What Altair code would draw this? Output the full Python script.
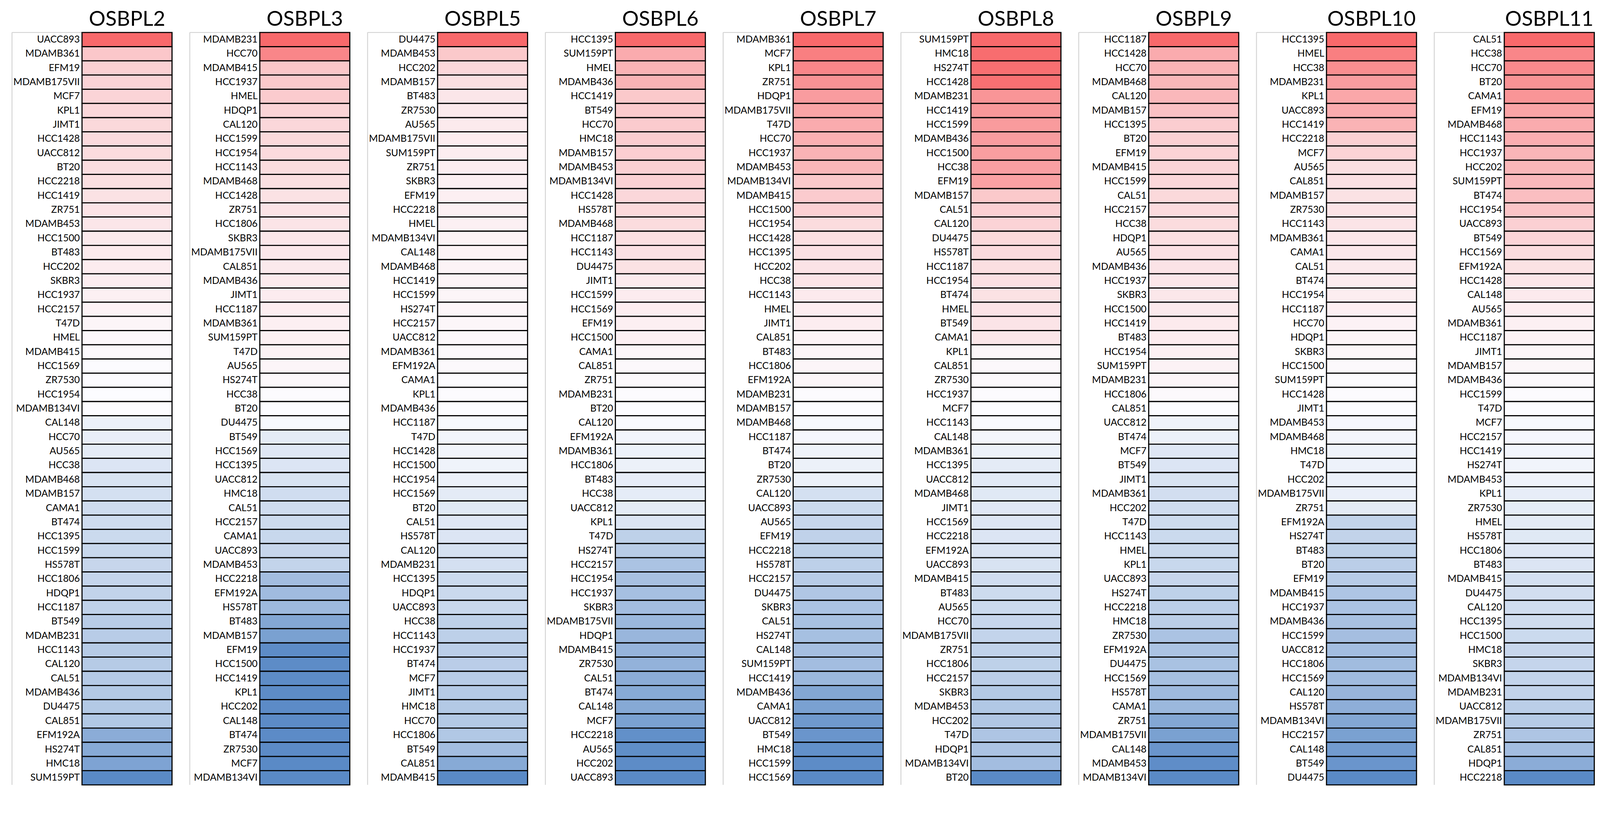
import altair as alt
import pandas as pd

genes = ["OSBPL2", "OSBPL3", "OSBPL5", "OSBPL6", "OSBPL7", "OSBPL8", "OSBPL9", "OSBPL10", "OSBPL11"]

OSBPL2_lines = ["UACC893", "MDAMB361", "EFM19", "MDAMB175VII", "MCF7", "KPL1", "JIMT1", "HCC1428", "UACC812", "BT20",
                "HCC2218", "HCC1419", "ZR751", "MDAMB453", "HCC1500", "BT483", "HCC202", "SKBR3", "HCC1937", "HCC2157",
                "T47D", "HMEL", "MDAMB415", "HCC1569", "ZR7530", "HCC1954", "MDAMB134VI", "CAL148", "HCC70", "AU565",
                "HCC38", "MDAMB468", "MDAMB157", "CAMA1", "BT474", "HCC1395", "HCC1599", "HS578T", "HCC1806", "HDQP1",
                "HCC1187", "BT549", "MDAMB231", "HCC1143", "CAL120", "CAL51", "MDAMB436", "DU4475", "CAL851", "EFM192A",
                "HS274T", "HMC18", "SUM159PT"]
OSBPL2_vals = [1.0, 0.36, 0.3, 0.28, 0.27, 0.25, 0.24, 0.23, 0.22, 0.21,
               0.2, 0.18, 0.17, 0.15, 0.13, 0.12, 0.11, 0.1, 0.08, 0.07,
               0.05, 0.03, 0.02, 0.01, 0.005, 0.002, 0.0, -0.1, -0.12, -0.15,
               -0.2, -0.22, -0.25, -0.28, -0.28, -0.3, -0.32, -0.33, -0.34, -0.36,
               -0.37, -0.42, -0.42, -0.43, -0.43, -0.44, -0.45, -0.45, -0.46, -0.7,
               -0.72, -0.78, -1.0]

OSBPL3_lines = ["MDAMB231", "HCC70", "MDAMB415", "HCC1937", "HMEL", "HDQP1", "CAL120", "HCC1599", "HCC1954", "HCC1143",
                "MDAMB468", "HCC1428", "ZR751", "HCC1806", "SKBR3", "MDAMB175VII", "CAL851", "MDAMB436", "JIMT1", "HCC1187",
                "MDAMB361", "SUM159PT", "T47D", "AU565", "HS274T", "HCC38", "BT20", "DU4475", "BT549", "HCC1569",
                "HCC1395", "UACC812", "HMC18", "CAL51", "HCC2157", "CAMA1", "UACC893", "MDAMB453", "HCC2218", "EFM192A",
                "HS578T", "BT483", "MDAMB157", "EFM19", "HCC1500", "HCC1419", "KPL1", "HCC202", "CAL148", "BT474",
                "ZR7530", "MCF7", "MDAMB134VI"]
OSBPL3_vals = [1.0, 0.8, 0.37, 0.35, 0.33, 0.27, 0.25, 0.24, 0.23, 0.22,
               0.2, 0.18, 0.17, 0.16, 0.15, 0.14, 0.13, 0.12, 0.11, 0.1,
               0.09, 0.08, 0.07, 0.05, 0.03, 0.01, 0.0, -0.03, -0.15, -0.18,
               -0.2, -0.22, -0.27, -0.28, -0.29, -0.32, -0.33, -0.35, -0.55, -0.57,
               -0.58, -0.75, -0.8, -0.98, -0.98, -0.98, -0.98, -0.99, -0.99, -0.99,
               -0.99, -1.0, -1.0]

OSBPL5_lines = ["DU4475", "MDAMB453", "HCC202", "MDAMB157", "BT483", "ZR7530", "AU565", "MDAMB175VII", "SUM159PT", "ZR751",
                "SKBR3", "EFM19", "HCC2218", "HMEL", "MDAMB134VI", "CAL148", "MDAMB468", "HCC1419", "HCC1599", "HS274T",
                "HCC2157", "UACC812", "MDAMB361", "EFM192A", "CAMA1", "KPL1", "MDAMB436", "HCC1187", "T47D", "HCC1428",
                "HCC1500", "HCC1954", "HCC1569", "BT20", "CAL51", "HS578T", "CAL120", "MDAMB231", "HCC1395", "HDQP1",
                "UACC893", "HCC38", "HCC1143", "HCC1937", "BT474", "MCF7", "JIMT1", "HMC18", "HCC70", "HCC1806",
                "BT549", "CAL851", "MDAMB415"]
OSBPL5_vals = [1.0, 0.35, 0.25, 0.2, 0.15, 0.13, 0.12, 0.11, 0.1, 0.1,
               0.09, 0.09, 0.08, 0.08, 0.07, 0.07, 0.06, 0.06, 0.05, 0.05,
               0.04, 0.03, 0.02, 0.02, 0.01, 0.01, 0.0, -0.03, -0.06, -0.07,
               -0.08, -0.1, -0.15, -0.17, -0.18, -0.2, -0.24, -0.25, -0.3, -0.31,
               -0.32, -0.38, -0.39, -0.4, -0.41, -0.42, -0.44, -0.45, -0.45, -0.46,
               -0.55, -0.72, -1.0]

OSBPL6_lines = ["HCC1395", "SUM159PT", "HMEL", "MDAMB436", "HCC1419", "BT549", "HCC70", "HMC18", "MDAMB157", "MDAMB453",
                "MDAMB134VI", "HCC1428", "HS578T", "MDAMB468", "HCC1187", "HCC1143", "DU4475", "JIMT1", "HCC1599", "HCC1569",
                "EFM19", "HCC1500", "CAMA1", "CAL851", "ZR751", "MDAMB231", "BT20", "CAL120", "EFM192A", "MDAMB361",
                "HCC1806", "BT483", "HCC38", "UACC812", "KPL1", "T47D", "HS274T", "HCC2157", "HCC1954", "HCC1937",
                "SKBR3", "MDAMB175VII", "HDQP1", "MDAMB415", "ZR7530", "CAL51", "BT474", "CAL148", "MCF7", "HCC2218",
                "AU565", "HCC202", "UACC893"]
OSBPL6_vals = [1.0, 0.55, 0.5, 0.5, 0.35, 0.34, 0.33, 0.32, 0.31, 0.3,
               0.29, 0.25, 0.24, 0.22, 0.2, 0.19, 0.18, 0.12, 0.11, 0.1,
               0.09, 0.08, 0.04, 0.03, 0.02, 0.01, 0.0, -0.02, -0.06, -0.09,
               -0.1, -0.13, -0.14, -0.15, -0.2, -0.38, -0.42, -0.5, -0.52, -0.53,
               -0.55, -0.6, -0.61, -0.63, -0.65, -0.7, -0.72, -0.73, -0.8, -0.95,
               -0.96, -0.98, -1.0]

OSBPL7_lines = ["MDAMB361", "MCF7", "KPL1", "ZR751", "HDQP1", "MDAMB175VII", "T47D", "HCC70", "HCC1937", "MDAMB453",
                "MDAMB134VI", "MDAMB415", "HCC1500", "HCC1954", "HCC1428", "HCC1395", "HCC202", "HCC38", "HCC1143", "HMEL",
                "JIMT1", "CAL851", "BT483", "HCC1806", "EFM192A", "MDAMB231", "MDAMB157", "MDAMB468", "HCC1187", "BT474",
                "BT20", "ZR7530", "CAL120", "UACC893", "AU565", "EFM19", "HCC2218", "HS578T", "HCC2157", "DU4475",
                "SKBR3", "CAL51", "HS274T", "CAL148", "SUM159PT", "HCC1419", "MDAMB436", "CAMA1", "UACC812", "BT549",
                "HMC18", "HCC1599", "HCC1569"]
OSBPL7_vals = [1.0, 0.85, 0.8, 0.72, 0.65, 0.6, 0.55, 0.52, 0.5, 0.47,
               0.35, 0.33, 0.3, 0.22, 0.2, 0.19, 0.17, 0.16, 0.12, 0.1,
               0.1, 0.06, 0.05, 0.05, 0.04, 0.01, 0.0, -0.03, -0.04, -0.08,
               -0.1, -0.1, -0.25, -0.3, -0.33, -0.37, -0.38, -0.39, -0.42, -0.47,
               -0.5, -0.52, -0.53, -0.54, -0.55, -0.6, -0.75, -0.8, -0.87, -0.9,
               -0.95, -0.98, -1.0]

OSBPL8_lines = ["SUM159PT", "HMC18", "HS274T", "HCC1428", "MDAMB231", "HCC1419", "HCC1599", "MDAMB436", "HCC1500", "HCC38",
                "EFM19", "MDAMB157", "CAL51", "CAL120", "DU4475", "HS578T", "HCC1187", "HCC1954", "BT474", "HMEL",
                "BT549", "CAMA1", "KPL1", "CAL851", "ZR7530", "HCC1937", "MCF7", "HCC1143", "CAL148", "MDAMB361",
                "HCC1395", "UACC812", "MDAMB468", "JIMT1", "HCC1569", "HCC2218", "EFM192A", "UACC893", "MDAMB415", "BT483",
                "AU565", "HCC70", "MDAMB175VII", "ZR751", "HCC1806", "HCC2157", "SKBR3", "MDAMB453", "HCC202", "T47D",
                "HDQP1", "MDAMB134VI", "BT20"]
OSBPL8_vals = [1.0, 0.97, 0.96, 0.95, 0.7, 0.68, 0.66, 0.65, 0.64, 0.63,
               0.62, 0.35, 0.3, 0.28, 0.24, 0.23, 0.2, 0.19, 0.18, 0.17,
               0.16, 0.15, 0.04, 0.03, 0.02, 0.01, 0.0, -0.02, -0.05, -0.1,
               -0.15, -0.16, -0.17, -0.18, -0.19, -0.2, -0.21, -0.22, -0.27, -0.29,
               -0.3, -0.33, -0.35, -0.37, -0.38, -0.4, -0.45, -0.46, -0.47, -0.48,
               -0.5, -0.55, -1.0]

OSBPL9_lines = ["HCC1187", "HCC1428", "HCC70", "MDAMB468", "CAL120", "MDAMB157", "HCC1395", "BT20", "EFM19", "MDAMB415",
                "HCC1599", "CAL51", "HCC2157", "HCC38", "HDQP1", "AU565", "MDAMB436", "HCC1937", "SKBR3", "HCC1500",
                "HCC1419", "BT483", "HCC1954", "SUM159PT", "MDAMB231", "HCC1806", "CAL851", "UACC812", "BT474", "MCF7",
                "BT549", "JIMT1", "MDAMB361", "HCC202", "T47D", "HCC1143", "HMEL", "KPL1", "UACC893", "HS274T",
                "HCC2218", "HMC18", "ZR7530", "EFM192A", "DU4475", "HCC1569", "HS578T", "CAMA1", "ZR751", "MDAMB175VII",
                "CAL148", "MDAMB453", "MDAMB134VI"]
OSBPL9_vals = [1.0, 0.55, 0.5, 0.47, 0.46, 0.4, 0.32, 0.3, 0.28, 0.27,
               0.25, 0.24, 0.23, 0.22, 0.2, 0.19, 0.17, 0.15, 0.14, 0.13,
               0.12, 0.11, 0.08, 0.07, 0.05, 0.02, 0.0, -0.08, -0.1, -0.18,
               -0.2, -0.22, -0.26, -0.28, -0.29, -0.3, -0.31, -0.32, -0.33, -0.38,
               -0.4, -0.4, -0.5, -0.5, -0.51, -0.53, -0.58, -0.6, -0.75, -0.8,
               -0.9, -0.97, -1.0]

OSBPL10_lines = ["HCC1395", "HMEL", "HCC38", "MDAMB231", "KPL1", "UACC893", "HCC1419", "HCC2218", "MCF7", "AU565",
                 "CAL851", "MDAMB157", "ZR7530", "HCC1143", "MDAMB361", "CAMA1", "CAL51", "BT474", "HCC1954", "HCC1187",
                 "HCC70", "HDQP1", "SKBR3", "HCC1500", "SUM159PT", "HCC1428", "JIMT1", "MDAMB453", "MDAMB468", "HMC18",
                 "T47D", "HCC202", "MDAMB175VII", "ZR751", "EFM192A", "HS274T", "BT483", "BT20", "EFM19", "MDAMB415",
                 "HCC1937", "MDAMB436", "HCC1599", "UACC812", "HCC1806", "HCC1569", "CAL120", "HS578T", "MDAMB134VI", "HCC2157",
                 "CAL148", "BT549", "DU4475"]
OSBPL10_vals = [1.0, 0.85, 0.75, 0.65, 0.58, 0.55, 0.5, 0.3, 0.28, 0.2,
                0.19, 0.18, 0.17, 0.16, 0.15, 0.14, 0.13, 0.11, 0.1, 0.09,
                0.07, 0.05, 0.04, 0.02, 0.01, 0.005, 0.0, -0.04, -0.05, -0.08,
                -0.09, -0.1, -0.11, -0.15, -0.35, -0.36, -0.38, -0.4, -0.42, -0.48,
                -0.5, -0.52, -0.54, -0.55, -0.56, -0.57, -0.62, -0.68, -0.75, -0.8,
                -0.85, -0.9, -1.0]

OSBPL11_lines = ["CAL51", "HCC38", "HCC70", "BT20", "CAMA1", "EFM19", "MDAMB468", "HCC1143", "HCC1937", "HCC202",
                 "SUM159PT", "BT474", "HCC1954", "UACC893", "BT549", "HCC1569", "EFM192A", "HCC1428", "CAL148", "AU565",
                 "MDAMB361", "HCC1187", "JIMT1", "MDAMB157", "MDAMB436", "HCC1599", "T47D", "MCF7", "HCC2157", "HCC1419",
                 "HS274T", "MDAMB453", "KPL1", "ZR7530", "HMEL", "HS578T", "HCC1806", "BT483", "MDAMB415", "DU4475",
                 "CAL120", "HCC1395", "HCC1500", "HMC18", "SKBR3", "MDAMB134VI", "MDAMB231", "UACC812", "MDAMB175VII", "ZR751",
                 "CAL851", "HDQP1", "HCC2218"]
OSBPL11_vals = [1.0, 0.8, 0.78, 0.72, 0.7, 0.6, 0.55, 0.53, 0.48, 0.47,
                0.46, 0.42, 0.38, 0.3, 0.27, 0.22, 0.18, 0.15, 0.12, 0.1,
                0.08, 0.07, 0.05, 0.04, 0.02, 0.01, 0.0, -0.03, -0.04, -0.06,
                -0.07, -0.08, -0.13, -0.14, -0.15, -0.17, -0.18, -0.2, -0.25, -0.26,
                -0.27, -0.28, -0.3, -0.33, -0.34, -0.35, -0.36, -0.4, -0.43, -0.48,
                -0.55, -0.7, -1.0]

panel_lines = [OSBPL2_lines, OSBPL3_lines, OSBPL5_lines, OSBPL6_lines, OSBPL7_lines,
               OSBPL8_lines, OSBPL9_lines, OSBPL10_lines, OSBPL11_lines]
panel_vals = [OSBPL2_vals, OSBPL3_vals, OSBPL5_vals, OSBPL6_vals, OSBPL7_vals,
              OSBPL8_vals, OSBPL9_vals, OSBPL10_vals, OSBPL11_vals]

LABEL_W = 189
BAR_W = 243
W = LABEL_W + BAR_W
TOP = 78
BARS_H = 2032
H = TOP + BARS_H + 2
FONT = "Lato"

color_scale = alt.Scale(domain=[-1, 0, 1], range=["#5A8AC6", "#FCFCFF", "#F8696B"], interpolate="rgb")


def panel(gene, lines, vals):
    df = pd.DataFrame({"line": lines, "val": vals})
    y = alt.Y("line:N", sort=lines, axis=None,
              scale=alt.Scale(range=[TOP, TOP + BARS_H], paddingInner=0, paddingOuter=0))
    one = pd.DataFrame({"gene": [gene]})
    frame_left = alt.Chart(one).mark_rule(color="#d4d4d4", strokeWidth=2.5).encode(
        x=alt.value(0), y=alt.value(TOP), y2=alt.value(TOP + BARS_H))
    frame_top = alt.Chart(one).mark_rule(color="#d4d4d4", strokeWidth=2.5).encode(
        x=alt.value(0), x2=alt.value(LABEL_W), y=alt.value(TOP))
    rect = alt.Chart(df).mark_rect(stroke="black", strokeWidth=3).encode(
        y=y, x=alt.value(LABEL_W), x2=alt.value(W),
        color=alt.Color("val:Q", scale=color_scale, legend=None))
    text = alt.Chart(df).mark_text(align="right", baseline="middle", font=FONT,
                                   fontSize=26, color="black").encode(
        y=y, x=alt.value(LABEL_W - 6), text="line:N")
    title = alt.Chart(one).mark_text(align="center", baseline="alphabetic", font=FONT,
                                     fontSize=56, color="black").encode(
        x=alt.value(LABEL_W + BAR_W / 2), y=alt.value(60), text="gene:N")
    return alt.layer(frame_left, frame_top, rect, text, title).properties(width=W, height=H)


charts = [panel(g, l, v) for g, l, v in zip(genes, panel_lines, panel_vals)]

chart = alt.hconcat(*charts, spacing=44).properties(
    padding={"left": 22, "top": -55, "right": 5, "bottom": 0},
    background="white"
).configure_view(strokeWidth=0, stroke="transparent")

chart.save("out.html", embed_options={"renderer": "svg", "actions": False})
